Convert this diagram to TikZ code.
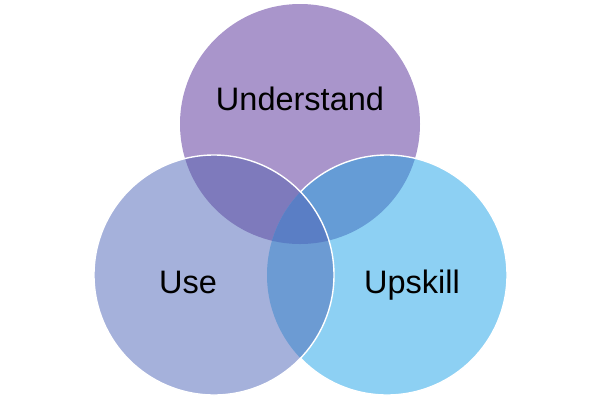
\documentclass[tikz,border=0pt]{standalone}
\usepackage{fontspec}
\setmainfont{Liberation Sans}
\definecolor{cT}{HTML}{A995CB}
\definecolor{cL}{HTML}{A5B1DB}
\definecolor{cR}{HTML}{8DD0F3}
\definecolor{cTL}{HTML}{7E7ABC}
\definecolor{cTR}{HTML}{659CD6}
\definecolor{cLR}{HTML}{6C9BD3}
\definecolor{cC}{HTML}{5A7EC5}
\tikzset{lbl/.style={font=\fontsize{32.5}{38}\selectfont, text=black, anchor=base, inner sep=0pt},
 outl/.style={draw=white, line width=1.4pt}}
\begin{document}
\begin{tikzpicture}[x=1pt,y=-1pt]
\useasboundingbox (0,0) rectangle (600,400);
\coordinate (T) at (300,124);
\coordinate (L) at (214,275);
\coordinate (R) at (387,275);
\def\rr{120}
\fill[cT] (T) circle (\rr);
\fill[cR] (R) circle (\rr);
\begin{scope}
 \clip (T) circle (\rr);
 \fill[cTR] (R) circle (\rr);
\end{scope}
\draw[outl] (R) circle (\rr);
\fill[cL] (L) circle (\rr);
\begin{scope}
 \clip (T) circle (\rr);
 \fill[cTL] (L) circle (\rr);
\end{scope}
\begin{scope}
 \clip (R) circle (\rr);
 \fill[cLR] (L) circle (\rr);
 \clip (T) circle (\rr);
 \fill[cC] (L) circle (\rr);
\end{scope}
\draw[outl] (L) circle (\rr);
\node[lbl] (u1) at (300,110) {Understand};
\node[lbl] (u2) at (188,293) {Use};
\node[lbl] (u3) at (412,293) {Upskill};
\end{tikzpicture}
\end{document}
